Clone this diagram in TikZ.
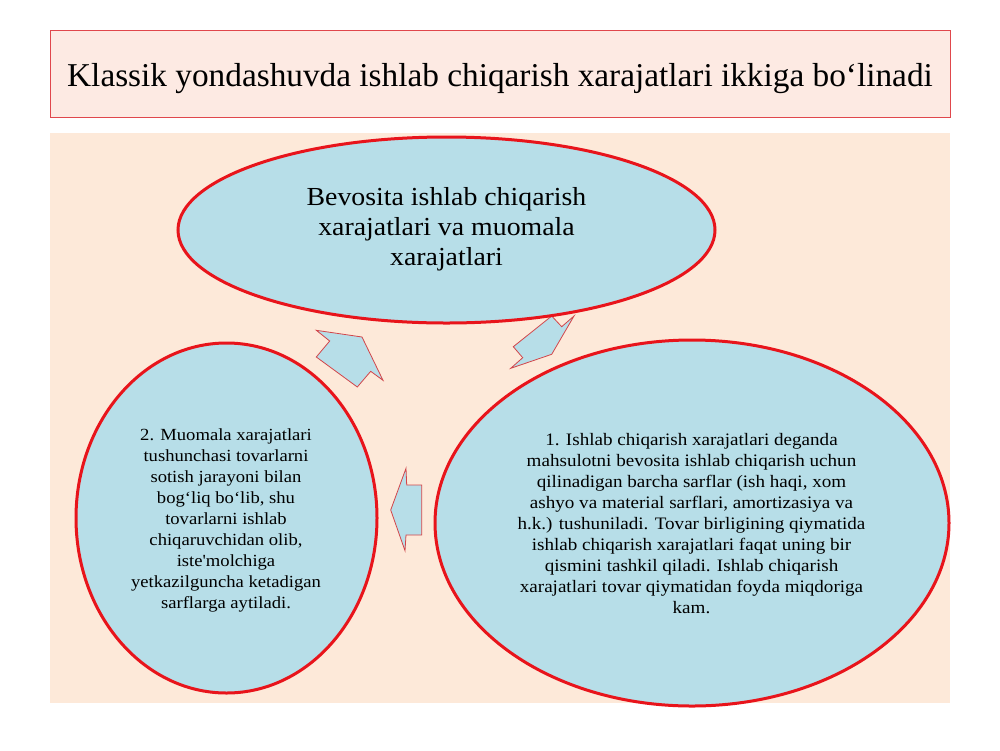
\documentclass[tikz,border=0pt]{standalone}
\usepackage{fontspec}
\setmainfont{Liberation Serif}
\newfontfamily\topfont{Liberation Serif}[FakeStretch=1.07]
\newfontfamily\leftfont{Liberation Serif}[FakeStretch=1.095]
\newfontfamily\rightfont{Liberation Serif}[FakeStretch=1.09]
\usetikzlibrary{shapes.geometric}
\definecolor{peach}{HTML}{FDE9D9}
\definecolor{titlefill}{HTML}{FDEAE3}
\definecolor{ellfill}{HTML}{B7DEE8}
\definecolor{ellred}{HTML}{E8141B}
\definecolor{arrred}{HTML}{D2454A}
\definecolor{titlered}{HTML}{E0474C}
\begin{document}
\begin{tikzpicture}[x=1pt,y=-1pt,
  ell/.style={ellipse, draw=ellred, line width=3pt, fill=ellfill, inner sep=0pt},
  blockarrow/.style={draw=arrred, line width=0.8pt, fill=ellfill, line join=miter},
  bodytext/.style={align=center, inner sep=0pt, anchor=north, text=black}]
\useasboundingbox (0,0) rectangle (1000,750);
\fill[white] (0,0) rectangle (1000,750);
% background panel
\fill[peach] (50,133) rectangle (950,702.5);
% title
\node[draw=titlered, line width=0.9pt, fill=titlefill, minimum width=900pt, minimum height=86.5pt, inner sep=0pt] (titlebox) at (500,73.75) {};
\node[anchor=base, inner sep=0pt, font=\fontsize{33.3}{38}\selectfont] (title) at (500,86.7)
  {Klassik yondashuvda ishlab chiqarish xarajatlari ikkiga bo‘linadi};
% block arrows
\filldraw[blockarrow] (316.3,330.3) -- (362,337) -- (383,380.3) -- (370.7,371.3) -- (357.3,387) -- (316.3,357) -- (329.7,341) -- cycle;
\filldraw[blockarrow] (551.7,316) -- (561.7,326.7) -- (574,316) -- (551.7,354.3) -- (510.7,368.3) -- (522.7,357.7) -- (513.3,346.7) -- cycle;
\filldraw[blockarrow] (406,468.3) -- (406.7,485) -- (421.7,485) -- (421.7,535) -- (406,535) -- (405,550.7) -- (390.7,510) -- cycle;
% ellipses
\node[ell, minimum width=537pt, minimum height=186pt] (top) at (446.5,230) {};
\node[ell, minimum width=301pt, minimum height=350pt] (left) at (226.5,518) {};
\node[ell, minimum width=514pt, minimum height=366pt] (right) at (692,523) {};
% texts
\node[bodytext, font=\topfont\fontsize{26}{30}\selectfont] (toptext) at (446.5,187.5)
  {Bevosita ishlab chiqarish\\xarajatlari va muomala\\xarajatlari};
\node[bodytext, font=\leftfont\fontsize{17}{21}\selectfont] (lefttext) at (226,428)
  {2. Muomala xarajatlari\\tushunchasi tovarlarni\\sotish jarayoni bilan\\bog‘liq bo‘lib, shu\\tovarlarni ishlab\\chiqaruvchidan olib,\\iste'molchiga\\yetkazilguncha ketadigan\\sarflarga aytiladi.};
\node[bodytext, font=\rightfont\fontsize{17.5}{21}\selectfont] (righttext) at (691.5,433)
  {1. Ishlab chiqarish xarajatlari deganda\\mahsulotni bevosita ishlab chiqarish uchun\\qilinadigan barcha sarflar (ish haqi, xom\\ashyo va material sarflari, amortizasiya va\\h.k.) tushuniladi. Tovar birligining qiymatida\\ishlab chiqarish xarajatlari faqat uning bir\\qismini tashkil qiladi. Ishlab chiqarish\\xarajatlari tovar qiymatidan foyda miqdoriga\\kam.};
\end{tikzpicture}
\end{document}
